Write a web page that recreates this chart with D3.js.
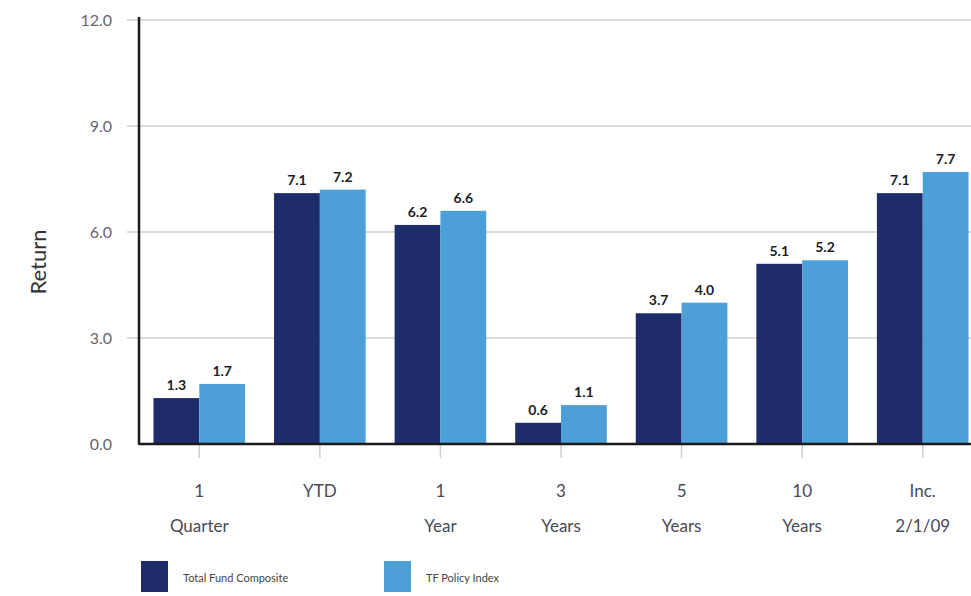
<!DOCTYPE html>
<html lang="en">
  <head>
    <meta charset="UTF-8" />
    <title>Returns</title>
    <script src="https://d3js.org/d3.v7.min.js"></script>
    <style>
      body { margin: 0; background: #fff; }
      text { font-family: Lato, "Open Sans", sans-serif; }
    </style>
  </head>
  <body>
    <div id="chart"></div>
    <script>
      const categories = ["1|Quarter", "YTD", "1|Year", "3|Years", "5|Years", "10|Years", "Inc.|2/1/09"];
      const fundValues = [1.3, 7.1, 6.2, 0.6, 3.7, 5.1, 7.1];
      const policyValues = [1.7, 7.2, 6.6, 1.1, 4.0, 5.2, 7.7];
      const seriesNames = ["Total Fund Composite", "TF Policy Index"];
      const yTicks = [0, 3, 6, 9, 12];

      const width = 971;
      const height = 596;
      const colors = ["#1f2c6c", "#4c9fd7"];

      const svg = d3.select("#chart")
        .append("svg")
        .attr("width", width)
        .attr("height", height);

      const x = d3.scaleBand()
        .domain(categories)
        .range([139, 983])
        .paddingInner(0.24)
        .paddingOuter(0.12);

      const x1 = d3.scaleBand()
        .domain([0, 1])
        .range([0, x.bandwidth()]);

      const y = d3.scaleLinear()
        .domain([0, 12])
        .range([444, 20]);

      // gridlines
      svg.append("g")
        .selectAll("line")
        .data(yTicks.filter(d => d > 0))
        .join("line")
        .attr("x1", 127)
        .attr("x2", width)
        .attr("y1", d => y(d))
        .attr("y2", d => y(d))
        .attr("stroke", "#dcdcdc")
        .attr("stroke-width", 2);

      // y tick labels
      svg.append("g")
        .selectAll("text")
        .data(yTicks)
        .join("text")
        .attr("x", 112)
        .attr("y", d => y(d) + 6)
        .attr("text-anchor", "end")
        .attr("font-size", 16)
        .attr("fill", "#6a6470")
        .text(d => d.toFixed(1));

      // x category ticks
      svg.append("g")
        .selectAll("line")
        .data(categories)
        .join("line")
        .attr("x1", d => x(d) + x.bandwidth() / 2)
        .attr("x2", d => x(d) + x.bandwidth() / 2)
        .attr("y1", 444)
        .attr("y2", 458)
        .attr("stroke", "#cfcfcf")
        .attr("stroke-width", 1.5);

      const rows = categories.map((c, i) => ({ c, vals: [fundValues[i], policyValues[i]] }));

      const groups = svg.append("g")
        .selectAll("g")
        .data(rows)
        .join("g")
        .attr("transform", d => `translate(${x(d.c)},0)`);

      groups.selectAll("rect")
        .data(d => d.vals)
        .join("rect")
        .attr("x", (d, i) => x1(i))
        .attr("width", x1.bandwidth())
        .attr("y", d => y(d))
        .attr("height", d => y(0) - y(d))
        .attr("fill", (d, i) => colors[i]);

      groups.selectAll("text")
        .data(d => d.vals)
        .join("text")
        .attr("x", (d, i) => x1(i) + x1.bandwidth() / 2)
        .attr("y", d => y(d) - 8)
        .attr("text-anchor", "middle")
        .attr("font-size", 14)
        .attr("font-weight", "bold")
        .attr("fill", "#1c1c28")
        .text(d => d.toFixed(1));

      // axes lines
      svg.append("line")
        .attr("x1", 139).attr("x2", width)
        .attr("y1", 444).attr("y2", 444)
        .attr("stroke", "#1a1a1a").attr("stroke-width", 2.5);
      svg.append("line")
        .attr("x1", 139).attr("x2", 139)
        .attr("y1", 17).attr("y2", 445)
        .attr("stroke", "#1a1a1a").attr("stroke-width", 2.5);

      // category labels
      const catLabels = svg.append("g")
        .selectAll("text")
        .data(categories)
        .join("text")
        .attr("text-anchor", "middle")
        .attr("font-size", 17)
        .attr("fill", "#4a4a55");
      catLabels.each(function(d) {
        const cx = x(d) + x.bandwidth() / 2;
        d.split("|").forEach((part, i) => {
          d3.select(this).append("tspan")
            .attr("x", cx)
            .attr("y", 497 + i * 35)
            .text(part);
        });
      });

      // y title
      svg.append("text")
        .attr("transform", "translate(46,262) rotate(-90)")
        .attr("text-anchor", "middle")
        .attr("font-size", 22)
        .attr("fill", "#333")
        .text("Return");

      // legend
      const legendX = [141, 384];
      const legend = svg.append("g")
        .selectAll("g")
        .data(seriesNames)
        .join("g")
        .attr("transform", (d, i) => `translate(${legendX[i]},561)`);
      legend.append("rect")
        .attr("width", 27)
        .attr("height", 31)
        .attr("fill", (d, i) => colors[i]);
      legend.append("text")
        .attr("x", 42)
        .attr("y", 21)
        .attr("font-size", 11)
        .attr("fill", "#444")
        .text(d => d);
    </script>
  </body>
</html>
